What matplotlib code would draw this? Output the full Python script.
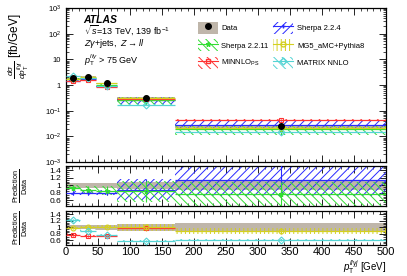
import numpy as np
import matplotlib
matplotlib.use("Agg")
import matplotlib.pyplot as plt
from matplotlib.patches import Patch
from matplotlib.lines import Line2D
from matplotlib.ticker import MultipleLocator, LogLocator, NullFormatter

plt.rcParams["font.family"] = ["Liberation Sans", "DejaVu Sans"]
plt.rcParams["mathtext.fontset"] = "custom"
plt.rcParams["mathtext.rm"] = "Liberation Sans"
plt.rcParams["mathtext.it"] = "Liberation Sans:italic"
plt.rcParams["hatch.linewidth"] = 0.7

# binning and data
bin_edges = [0, 22, 47, 80, 170, 500]
data = [1.8, 2.1, 1.17, 0.30, 0.025]
data_rel_err = [0.06, 0.06, 0.07, 0.10, 0.12]

# prediction / data ratios and relative band half-widths
sherpa224 = [0.80, 0.80, 0.80, 0.88, 1.14]
sherpa224_err = [0.06, 0.07, 0.07, 0.28, 0.42]
sherpa2211 = [0.92, 0.88, 0.86, 0.84, 0.78]
sherpa2211_err = [0.08, 0.10, 0.12, 0.28, 0.32]
minnlo = [0.77, 0.73, 0.73, 0.97, 1.80]
minnlo_err = [0.04, 0.04, 0.04, 0.03, 0.10]
mg5 = [0.97, 1.02, 1.02, 1.00, 0.88]
mg5_err = [0.03, 0.03, 0.04, 0.10, 0.10]
matrix = [1.22, 0.90, 0.75, 0.58, 0.60]
matrix_err = [0.04, 0.05, 0.03, 0.02, 0.03]

edges = np.array(bin_edges, dtype=float)
centers = 0.5 * (edges[:-1] + edges[1:])
data = np.array(data)

GRAY = "#bfb6aa"
BLUE = "#2a2aff"
GREEN = "#33dd33"
RED = "#ff3333"
YELLOW = "#d4d020"
CYAN = "#55d4d4"


def step(v):
    v = np.asarray(v, dtype=float)
    return np.append(v, v[-1])


def draw_pred(ax, central, err, color, hatch, marker):
    central = np.asarray(central, dtype=float)
    err = np.asarray(err, dtype=float)
    ax.fill_between(edges, step(central - err), step(central + err), step="post",
                    facecolor="none", edgecolor=color, hatch=hatch, linewidth=0, zorder=2)
    ax.hlines(central, edges[:-1], edges[1:], color=color, linewidth=0.9, zorder=3)
    ax.vlines(centers, central - err, central + err, color=color, linewidth=0.8, zorder=3)
    ax.plot(centers, central, linestyle="none", marker=marker, markersize=3.5,
            markerfacecolor="none", markeredgecolor=color, markeredgewidth=0.8, zorder=4)


def root_style(ax):
    ax.tick_params(which="both", direction="in", top=True, right=True, labelsize=6)
    ax.tick_params(which="major", length=5, width=0.6)
    ax.tick_params(which="minor", length=2.5, width=0.5)
    ax.xaxis.set_major_locator(MultipleLocator(50))
    ax.xaxis.set_minor_locator(MultipleLocator(10))
    for s in ax.spines.values():
        s.set_linewidth(0.9)


fig = plt.figure(figsize=(4.07, 2.76), dpi=100)
ax_main = fig.add_axes([0.162, 0.413, 0.787, 0.558])
ax_r1 = fig.add_axes([0.162, 0.254, 0.787, 0.145])
ax_r2 = fig.add_axes([0.162, 0.112, 0.787, 0.125])

# main panel
ax_main.fill_between(edges, step(data * (1 - np.array(data_rel_err))),
                     step(data * (1 + np.array(data_rel_err))), step="post",
                     color=GRAY, linewidth=0, zorder=1)
preds = [
    (sherpa224, sherpa224_err, BLUE, "////", "+"),
    (sherpa2211, sherpa2211_err, GREEN, "\\\\\\\\", "*"),
    (minnlo, minnlo_err, RED, "\\\\\\\\", "s"),
    (mg5, mg5_err, YELLOW, "||||", "o"),
    (matrix, matrix_err, CYAN, "\\\\\\\\", "D"),
]
for r, e, c, h, m in preds:
    draw_pred(ax_main, data * np.array(r), data * np.array(e), c, h, m)
ax_main.plot(centers, data, "o", color="black", markersize=4, zorder=6)
ax_main.set_yscale("log")
ax_main.set_ylim(1e-3, 1e3)
ax_main.set_xlim(0, 500)
root_style(ax_main)
ax_main.yaxis.set_minor_locator(LogLocator(base=10, subs=np.arange(2, 10), numticks=20))
ax_main.yaxis.set_minor_formatter(NullFormatter())
ax_main.set_yticks([1e-3, 1e-2, 1e-1, 1, 10, 1e2, 1e3])
ax_main.set_yticklabels([r"$10^{-3}$", r"$10^{-2}$", r"$10^{-1}$", "1", "10", r"$10^{2}$", r"$10^{3}$"])
ax_main.tick_params(labelbottom=False, labelsize=5.5)

ax_main.text(0.055, 0.905, "ATLAS", transform=ax_main.transAxes, fontsize=7.5,
             fontweight="bold", style="italic")
ax_main.text(0.055, 0.83, r"$\sqrt{s}$=13 TeV, 139 fb$^{-1}$", transform=ax_main.transAxes, fontsize=6.5)
ax_main.text(0.055, 0.755, r"$Z\gamma$+jets,  $Z\rightarrow ll$", transform=ax_main.transAxes, fontsize=6.5)
ax_main.text(0.055, 0.64, r"$p_{\rm T}^{ll\gamma}$ > 75 GeV", transform=ax_main.transAxes, fontsize=6.5)


# legend
def hatch_handle(color, hatch, marker):
    return (Patch(facecolor="none", edgecolor=color, hatch=hatch, linewidth=0),
            Line2D([], [], color=color, marker=marker, markerfacecolor="none",
                   markersize=3.5, linewidth=0.8))


handles = [
    (Patch(facecolor=GRAY, linewidth=0), Line2D([], [], marker="o", color="black", linestyle="none", markersize=4)),
    hatch_handle(GREEN, "\\\\\\\\", "*"),
    hatch_handle(RED, "\\\\\\\\", "s"),
    hatch_handle(BLUE, "////", "+"),
    hatch_handle(YELLOW, "||||", "o"),
    hatch_handle(CYAN, "\\\\\\\\", "D"),
]
labels = ["Data", "Sherpa 2.2.11", r"MINNLO$_{\rm PS}$", "Sherpa 2.2.4",
          "MG5_aMC+Pythia8", "MATRIX NNLO"]
ax_main.legend(handles, labels, ncol=2, loc="upper left", bbox_to_anchor=(0.39, 0.955),
               frameon=False, fontsize=5.5, handlelength=2.6, handleheight=2.0,
               columnspacing=0.6, labelspacing=0.75, handletextpad=0.5)

fig.text(0.045, 0.95, r"$\frac{d\sigma}{dp_{\rm T}^{ll\gamma j}}$ [fb/GeV]", rotation=90,
         ha="center", va="top", fontsize=8.5)

# ratio panels
for ax, group in [(ax_r1, preds[:2]), (ax_r2, preds[2:])]:
    ax.fill_between(edges, step(1 - np.array(data_rel_err)), step(1 + np.array(data_rel_err)),
                    step="post", color=GRAY, linewidth=0, zorder=1)
    for r, e, c, h, m in group:
        draw_pred(ax, r, e, c, h, m)
    ax.set_xlim(0, 500)
    ax.set_ylim(0.45, 1.52)
    root_style(ax)
    ax.set_yticks([0.6, 0.8, 1.0, 1.2, 1.4])
    ax.set_yticklabels(["0.6", "0.8", "1", "1.2", "1.4"])
    ax.yaxis.set_minor_locator(MultipleLocator(0.05))
    fig.text(0.05, (ax.get_position().y0 + ax.get_position().y1) / 2,
             r"$\frac{\rm Prediction}{\rm Data}$", rotation=90, ha="center", va="center", fontsize=7.5)

ax_r1.tick_params(labelbottom=False)
ax_r2.tick_params(axis="x", labelsize=8, pad=1.5)
fig.text(0.949, 0.0, r"$p_{\rm T}^{ll\gamma j}$ [GeV]", ha="right", va="bottom", fontsize=7)

fig.savefig("out.png", dpi=100)
